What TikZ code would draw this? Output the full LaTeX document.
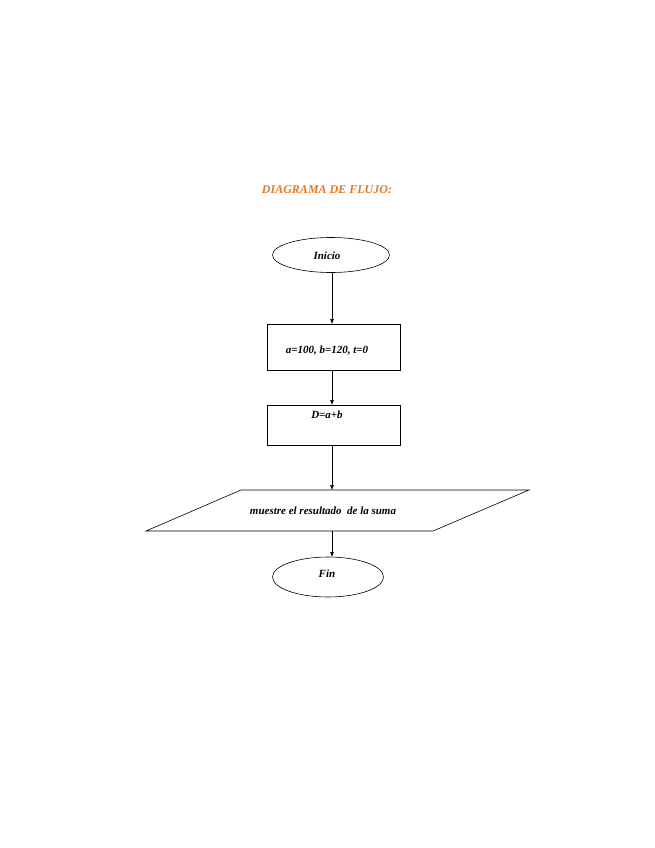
\documentclass[tikz,border=0pt]{standalone}
\usepackage{fontspec}
\setmainfont{Liberation Serif}
\usetikzlibrary{shapes.geometric,arrows.meta}
\definecolor{org}{HTML}{E87722}
\begin{document}
\begin{tikzpicture}[x=1pt,y=-1pt,
  txt/.style={font=\fontsize{11}{13}\selectfont\bfseries\itshape},
  arr/.style={-{Latex[length=5pt,width=4pt]},line width=0.6pt},
  box/.style={draw,line width=0.6pt}]
\useasboundingbox (0,0) rectangle (655,848);
\node[txt,text=org,font=\fontsize{12}{14}\selectfont\bfseries\itshape] (t) at (327,190) {DIAGRAMA DE FLUJO:};
\node[box,ellipse,minimum width=117pt,minimum height=35pt,inner sep=0] (ini) at (331,255) {};
\node[txt] at (327,256) {Inicio};
\node[box,minimum width=133pt,minimum height=46pt,inner sep=0] (r1) at (333.5,347) {};
\node[txt] at (327,351) {a=100, b=120, t=0};
\node[box,minimum width=133pt,minimum height=40pt,inner sep=0] (r2) at (333.5,425) {};
\node[txt] at (327,415) {D=a+b};
\draw[box] (241,490) coordinate (pa) -- (529,490) -- (433,531) -- (146,531) coordinate (pb) -- cycle;
\coordinate (ptop) at (332,490);
\coordinate (pbot) at (332,531);
\node[txt] (pt) at (323,511) {muestre el resultado\ \ de la suma};
\node[box,ellipse,minimum width=111pt,minimum height=40pt,inner sep=0] (fin) at (328,577) {};
\node[txt] at (327,574) {Fin};
\draw[arr] (332,272) -- (332,324);
\draw[arr] (332,370) -- (332,405);
\draw[arr] (332,445) -- (ptop);
\draw[arr] (pbot) -- (332,557);
\end{tikzpicture}
\end{document}
